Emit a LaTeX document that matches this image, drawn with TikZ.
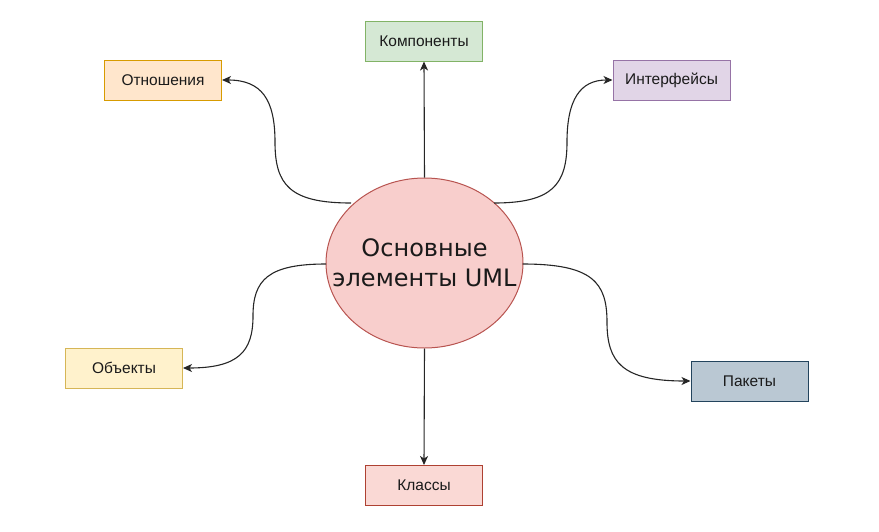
\documentclass[tikz,border=0pt]{standalone}
\usepackage{fontspec}
\setmainfont{Liberation Sans}
\newfontfamily\elfont{DejaVu Sans}
\usetikzlibrary{arrows.meta,shapes.geometric}
\definecolor{elfill}{HTML}{F8CECC}\definecolor{elline}{HTML}{B85450}
\definecolor{gfill}{HTML}{D5E8D4}\definecolor{gline}{HTML}{82B366}
\definecolor{ofill}{HTML}{FFE6CC}\definecolor{oline}{HTML}{D79B00}
\definecolor{pfill}{HTML}{E1D5E7}\definecolor{pline}{HTML}{9673A6}
\definecolor{yfill}{HTML}{FFF2CC}\definecolor{yline}{HTML}{D6B656}
\definecolor{bfill}{HTML}{BAC8D3}\definecolor{bline}{HTML}{23445D}
\definecolor{rfill}{HTML}{FAD9D5}\definecolor{rline}{HTML}{AE4132}
\definecolor{txt}{HTML}{1A1A1A}
\tikzset{
  box/.style={draw, line width=1pt, minimum width=117pt, minimum height=40pt, inner sep=0pt,
    font=\fontsize{15.5}{18}\selectfont, text=txt},
  link/.style={draw=black!85, line width=1.1pt, -{Stealth[length=9pt,width=8pt,inset=2.5pt]}}
}
\begin{document}
\begin{tikzpicture}[x=1pt,y=-1pt]
\useasboundingbox (0,0) rectangle (879,531);
\node[ellipse, draw=elline, fill=elfill, line width=1pt, minimum width=197pt, minimum height=170pt,
  inner xsep=-40pt, inner ysep=-20pt, align=center, font=\elfont\fontsize{24}{30}\selectfont, text=txt] (c) at (424.5,263) {Основные\\элементы UML};
\node[box, fill=gfill, draw=gline] (komp) at (424,41) {Компоненты};
\node[box, fill=ofill, draw=oline] (otn) at (163,80) {Отношения};
\node[box, fill=pfill, draw=pline] (intf) at (671.5,80) {Интерфейсы};
\node[box, fill=yfill, draw=yline] (obj) at (124,368) {Объекты};
\node[box, fill=bfill, draw=bline] (pak) at (749.5,381) {Пакеты};
\node[box, fill=rfill, draw=rline] (kl) at (424,485.5) {Классы};
\coordinate (sOtn) at (351,203);
\coordinate (sInt) at (494,203);
\coordinate (sObj) at (326,264);
\coordinate (sPak) at (522.5,264);
\draw[link] (c.north) -- (komp.south);
\draw[link] (c.south) -- (kl.north);
\draw[link] (sOtn) .. controls (290,203) and (275,185) .. (275,142) .. controls (275,100) and (262,80) .. (otn.east);
\draw[link] (sInt) .. controls (552,203) and (567,185) .. (567,142) .. controls (567,100) and (580,80) .. (intf.west);
\draw[link] (sObj) .. controls (268,264) and (253,280) .. (253,316) .. controls (253,352) and (238,368) .. (obj.east);
\draw[link] (sPak) .. controls (592,264) and (607,282) .. (607,322) .. controls (607,362) and (622,381) .. (pak.west);
\end{tikzpicture}
\end{document}
